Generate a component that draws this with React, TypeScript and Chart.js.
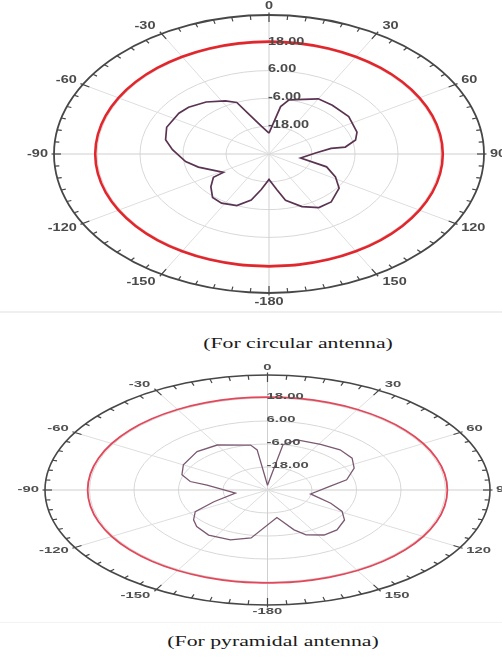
import React, { useEffect, useRef } from "react";
import { Chart, registerables } from "chart.js";

Chart.register(...registerables);

// ---------- scale definition ----------
const R_MIN = -30;
const R_MAX = 30;
const RING_VALUES = [-18, -6, 6, 18];
const RING_LABELS = ["-18.00", "-6.00", "6.00", "18.00"];
const SPOKE_ANGLES = [0, 30, 60, 90, 120, 150, 180, -150, -120, -90, -60, -30];
const SPOKE_LABELS = ["0", "30", "60", "90", "120", "150", "-180", "-150", "-120", "-90", "-60", "-30"];

// ---------- reference (red) traces ----------
const REF_ANGLES = [
  -180, -170, -160, -150, -140, -130, -120, -110, -100, -90, -80, -70, -60, -50, -40, -30, -20, -10,
  0, 10, 20, 30, 40, 50, 60, 70, 80, 90, 100, 110, 120, 130, 140, 150, 160, 170, 180,
];
const CIRC_REF_DB = [
  18.5, 18.5, 18.5, 18.5, 18.5, 18.5, 18.5, 18.5, 18.5, 18.5, 18.5, 18.5, 18.5, 18.5, 18.5, 18.5, 18.5, 18.5,
  18.5, 18.5, 18.5, 18.5, 18.5, 18.5, 18.5, 18.5, 18.5, 18.5, 18.5, 18.5, 18.5, 18.5, 18.5, 18.5, 18.5, 18.5, 18.5,
];
const PYR_REF_DB = [
  18.5, 18.5, 18.5, 18.5, 18.5, 18.5, 18.5, 18.5, 18.5, 18.5, 18.5, 18.5, 18.5, 18.5, 18.5, 18.5, 18.5, 18.5,
  18.5, 18.5, 18.5, 18.5, 18.5, 18.5, 18.5, 18.5, 18.5, 18.5, 18.5, 18.5, 18.5, 18.5, 18.5, 18.5, 18.5, 18.5, 18.5,
];

// ---------- circular antenna pattern (purple) ----------
const CIRC_ANGLES = [
  0, 9, 13.5, 30, 40, 54, 69, 76, 82, 82, 88, 101, 109, 118, 127, 140, 149, 158, 167, 172, 180,
  -172, -166, -158, -148, -140, -131, -123, -122, -106, -98, -86, -78, -68, -55, -48, -38, -28, -22, -18, -9.5,
];
const CIRC_DB = [
  -21, -9.3, -6, -2.5, -2.5, -2.5, -3.7, -5.1, -8.5, -12.5, -17, -21, -13, -9, -5.5, -3, -3, -5.5, -9.5, -14.5, -19,
  -14.5, -9.5, -6, -5, -5.5, -8.5, -11.5, -15, -9.5, -6.5, -3, -0.5, 0.8, 0.7, 0.2, -1.5, -4, -6, -12, -18,
];

// ---------- pyramidal antenna pattern (purple) ----------
const PYR_ANGLES = [
  0, 10, 17, 31, 43, 54, 64, 76, 84, 100, 112, 119, 127, 138, 147, 156, 161, 170,
  -170, -159, -146, -135, -128, -120, -113, -101, -81, -78, -71, -60, -43.5, -30, -11, -7.6,
];
const PYR_DB = [
  -27.5, -6, -2.7, -2.2, -1.3, -1.8, -4, -8, -13.3, -18.2, -11.6, -7, -4, -2, -2, -4.4, -8, -15.4,
  -4.6, -2.1, -1.6, -3, -4.7, -7.5, -14.3, -21.2, -13.5, -8.7, -5.6, -3.8, -2.4, -2.9, -6.1, -8.9,
];

const SPAN = R_MAX - R_MIN;

function toXY(angles: number[], dbs: number[], close: boolean) {
  const pts = angles.map((a, i) => {
    const r = dbs[i] - R_MIN;
    const t = (a * Math.PI) / 180;
    return { x: r * Math.sin(t), y: r * Math.cos(t) };
  });
  if (close && pts.length) pts.push({ ...pts[0] });
  return pts;
}

type FrameOpts = {
  font: number;
  stretch: number;
  gapX: number;
  gapY: number;
  ringWidth: number;
  textColor: string;
};

function geom(chart: any) {
  const xs = chart.scales.x;
  const ys = chart.scales.y;
  const cx = xs.getPixelForValue(0);
  const cy = ys.getPixelForValue(0);
  const rx = (v: number) => xs.getPixelForValue(v - R_MIN) - cx;
  const ry = (v: number) => cy - ys.getPixelForValue(v - R_MIN);
  return { cx, cy, rx, ry };
}

function drawText(ctx: CanvasRenderingContext2D, text: string, x: number, y: number, align: CanvasTextAlign, stretch: number) {
  ctx.save();
  ctx.translate(x, y);
  ctx.scale(stretch, 1);
  ctx.textAlign = align;
  ctx.textBaseline = "middle";
  ctx.fillText(text, 0, 0);
  ctx.restore();
}

function polarFrame(o: FrameOpts) {
  return {
    id: "polarFrame",
    beforeDatasetsDraw(chart: any) {
      const { cx, cy, rx, ry } = geom(chart);
      const ctx: CanvasRenderingContext2D = chart.ctx;
      ctx.save();
      ctx.lineWidth = 1;
      ctx.strokeStyle = "#d8d8d8";
      for (const v of RING_VALUES) {
        ctx.beginPath();
        ctx.ellipse(cx, cy, rx(v), ry(v), 0, 0, Math.PI * 2);
        ctx.stroke();
      }
      const RX = rx(R_MAX);
      const RY = ry(R_MAX);
      for (const a of SPOKE_ANGLES) {
        const t = (a * Math.PI) / 180;
        ctx.strokeStyle = a % 90 === 0 ? "#cfcfcf" : "#dedede";
        ctx.beginPath();
        ctx.moveTo(cx, cy);
        ctx.lineTo(cx + RX * Math.sin(t), cy - RY * Math.cos(t));
        ctx.stroke();
      }
      ctx.restore();
    },
    afterDatasetsDraw(chart: any) {
      const { cx, cy, rx, ry } = geom(chart);
      const ctx: CanvasRenderingContext2D = chart.ctx;
      const RX = rx(R_MAX);
      const RY = ry(R_MAX);
      ctx.save();
      // outer ring
      ctx.strokeStyle = "#474747";
      ctx.lineWidth = o.ringWidth;
      ctx.beginPath();
      ctx.ellipse(cx, cy, RX, RY, 0, 0, Math.PI * 2);
      ctx.stroke();
      // tick marks every 5 degrees
      ctx.lineWidth = 1.2;
      for (let d = 0; d < 360; d += 5) {
        const t = (d * Math.PI) / 180;
        const px = cx + RX * Math.sin(t);
        const py = cy - RY * Math.cos(t);
        const L = Math.hypot(cx - px, cy - py);
        const ux = (cx - px) / L;
        const uy = (cy - py) / L;
        const major = d % 30 === 0;
        const inner = major ? 7 : 4.5;
        const outer = major ? 2.5 : 0;
        ctx.beginPath();
        ctx.moveTo(px - ux * outer, py - uy * outer);
        ctx.lineTo(px + ux * inner, py + uy * inner);
        ctx.stroke();
      }
      // angle labels
      ctx.fillStyle = o.textColor;
      ctx.font = `bold ${o.font}px 'Liberation Sans', Arial, sans-serif`;
      SPOKE_ANGLES.forEach((a, i) => {
        const t = (a * Math.PI) / 180;
        const s = Math.sin(t);
        const c = Math.cos(t);
        let x = cx + RX * s;
        let align: CanvasTextAlign = "center";
        if (s > 0.01) {
          x += o.gapX;
          align = "left";
        } else if (s < -0.01) {
          x -= o.gapX;
          align = "right";
        }
        const y = cy - (RY + o.gapY) * c;
        drawText(ctx, SPOKE_LABELS[i], x, y, align, o.stretch);
      });
      // radial labels
      RING_VALUES.forEach((v, i) => {
        drawText(ctx, RING_LABELS[i], cx - 1, cy - ry(v) - 1, "left", o.stretch);
      });
      ctx.restore();
    },
  };
}

type PolarProps = {
  width: number;
  height: number;
  padding: { left: number; right: number; top: number; bottom: number };
  refDb: number[];
  patAngles: number[];
  patDb: number[];
  refColor: string;
  refWidth: number;
  patColor: string;
  patWidth: number;
  frame: FrameOpts;
};

function PolarChart(p: PolarProps) {
  const ref = useRef<HTMLCanvasElement>(null);
  useEffect(() => {
    const chart = new Chart(ref.current as HTMLCanvasElement, {
      type: "scatter",
      data: {
        datasets: [
          {
            data: toXY(REF_ANGLES, p.refDb, false),
            showLine: true,
            borderColor: p.refColor,
            borderWidth: p.refWidth,
            pointRadius: 0,
            tension: 0.4,
            fill: false,
          },
          {
            data: toXY(p.patAngles, p.patDb, true),
            showLine: true,
            borderColor: p.patColor,
            borderWidth: p.patWidth,
            pointRadius: 0,
            tension: 0,
            fill: false,
          },
        ],
      } as any,
      options: {
        animation: false,
        responsive: false,
        maintainAspectRatio: false,
        devicePixelRatio: 1,
        events: [],
        layout: { padding: p.padding },
        scales: {
          x: { type: "linear", min: -SPAN, max: SPAN, display: false },
          y: { type: "linear", min: -SPAN, max: SPAN, display: false },
        },
        plugins: { legend: { display: false }, tooltip: { enabled: false } },
      } as any,
      plugins: [polarFrame(p.frame)],
    });
    return () => chart.destroy();
  }, []);
  return (
    <canvas
      ref={ref}
      width={p.width}
      height={p.height}
      style={{ display: "block", width: p.width, height: p.height }}
    />
  );
}

const captionStyle = (cx: number, cy: number, stretch: number): React.CSSProperties => ({
  position: "absolute",
  left: cx,
  top: cy,
  transform: `translate(-50%, -50%) scaleX(${stretch})`,
  fontFamily: "'Liberation Serif', 'Times New Roman', serif",
  fontSize: 15,
  color: "#1a1a1a",
  whiteSpace: "nowrap",
});

export default function App() {
  return (
    <div
      style={{
        position: "absolute",
        left: 0,
        top: 0,
        width: 502,
        height: 661,
        background: "#ffffff",
        overflow: "hidden",
      }}
    >
      <div style={{ position: "absolute", left: 0, top: 0 }}>
        <PolarChart
          width={502}
          height={310}
          padding={{ left: 54, right: 18, top: 15, bottom: 17 }}
          refDb={CIRC_REF_DB}
          patAngles={CIRC_ANGLES}
          patDb={CIRC_DB}
          refColor="#e3262b"
          refWidth={2.6}
          patColor="#5a3352"
          patWidth={1.7}
          frame={{ font: 10, stretch: 1.45, gapX: 6, gapY: 9, ringWidth: 1.8, textColor: "#4a4a4a" }}
        />
      </div>
      <div style={{ position: "absolute", left: 0, top: 311, width: 502, height: 2, background: "#efefef" }} />
      <div style={captionStyle(298, 343, 1.45)}>(For circular antenna)</div>
      <div style={{ position: "absolute", left: 0, top: 355 }}>
        <PolarChart
          width={502}
          height={265}
          padding={{ left: 45, right: 12, top: 20, bottom: 15 }}
          refDb={PYR_REF_DB}
          patAngles={PYR_ANGLES}
          patDb={PYR_DB}
          refColor="#e2475a"
          refWidth={1.8}
          patColor="#7a5872"
          patWidth={1.3}
          frame={{ font: 8.5, stretch: 1.75, gapX: 6, gapY: 7, ringWidth: 1.6, textColor: "#505050" }}
        />
      </div>
      <div style={{ position: "absolute", left: 0, top: 622, width: 502, height: 1, background: "#f2f2f2" }} />
      <div style={captionStyle(273, 641, 1.45)}>(For pyramidal antenna)</div>
    </div>
  );
}
